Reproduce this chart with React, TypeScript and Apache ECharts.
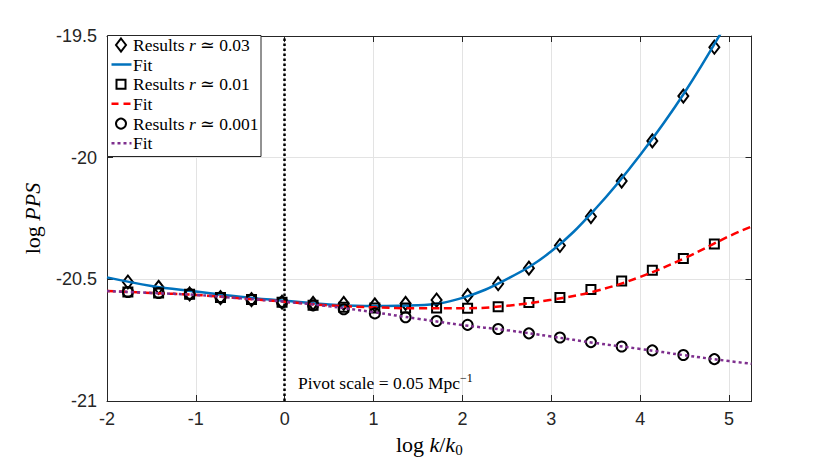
import React, { useEffect, useRef } from 'react';
import * as echarts from 'echarts';

// x positions (log k/k0) of the computed points
const markerX = [-1.765, -1.419, -1.07, -0.723, -0.374, -0.03, 0.319, 0.664, 1.014, 1.36, 1.709, 2.058, 2.402, 2.748, 3.097, 3.446, 3.792, 4.137, 4.486, 4.835];
// Results r ~ 0.03 (diamonds)
const results003 = [-20.511, -20.533, -20.56, -20.575, -20.583, -20.594, -20.599, -20.599, -20.605, -20.599, -20.585, -20.567, -20.518, -20.454, -20.361, -20.242, -20.096, -19.931, -19.747, -19.546];
// Results r ~ 0.01 (squares)
const results001 = [-20.552, -20.556, -20.561, -20.575, -20.583, -20.594, -20.606, -20.615, -20.618, -20.618, -20.618, -20.619, -20.613, -20.595, -20.575, -20.542, -20.507, -20.463, -20.414, -20.355];
// Results r ~ 0.001 (circles)
const results0001 = [-20.552, -20.556, -20.561, -20.575, -20.583, -20.594, -20.607, -20.623, -20.64, -20.656, -20.671, -20.687, -20.704, -20.722, -20.739, -20.758, -20.776, -20.792, -20.811, -20.828];

// Fit curves
const fitBlueX = [-2, -1.5, -1, -0.5, 0, 0.5, 1, 1.5, 2, 2.5, 3, 3.5, 4, 4.5, 5];
const fitBlueY = [-20.492, -20.527, -20.55, -20.572, -20.588, -20.603, -20.61, -20.607, -20.576, -20.499, -20.385, -20.209, -19.989, -19.732, -19.43];
const fitX = [-2, -1.5, -1, -0.5, 0, 0.5, 1, 1.5, 2, 2.5, 3, 3.5, 4, 4.5, 5, 5.253];
const fitRedY = [-20.548, -20.556, -20.564, -20.578, -20.592, -20.607, -20.615, -20.619, -20.619, -20.609, -20.584, -20.548, -20.49, -20.413, -20.323, -20.283];
const fitPurpleY = [-20.548, -20.556, -20.564, -20.578, -20.592, -20.611, -20.635, -20.662, -20.688, -20.709, -20.735, -20.762, -20.786, -20.812, -20.836, -20.847];

const pivotX = 0;
const xTicks = { min: -2, max: 5.253, interval: 1 };
const yTicks = { min: -21, max: -19.5, interval: 0.5 };

const legendLabels = ['0.03', '0.01', '0.001'];

const pair = (xs: number[], ys: number[]) => xs.map((x, i) => [x, ys[i]]);

const SERIF = '"Liberation Serif", "DejaVu Serif", serif';
const SANS = '"Liberation Sans", Arial, sans-serif';
const AXIS_COLOR = '#262626';

export default function App() {
  const ref = useRef<HTMLDivElement>(null);
  useEffect(() => {
    document.body.style.margin = '0';
    if (!ref.current) return;
    const chart = echarts.init(ref.current, undefined, { renderer: 'svg' });

    const markerStyle = { color: 'rgba(255,255,255,0)', borderColor: '#000', borderWidth: 2, opacity: 1 };
    const rowY = [45, 64.5, 84.2, 103.8, 123.6, 143.2];
    const serifRich = {
      n: { fontFamily: SERIF, fontSize: 17.5, color: '#000' },
      i: { fontFamily: SERIF, fontSize: 17.5, fontStyle: 'italic', color: '#000' },
    };
    const legendText = (y: number, text: string) => ({
      type: 'text',
      z: 101,
      style: { x: 133, y, text, rich: serifRich, verticalAlign: 'middle', align: 'left', fontFamily: SERIF, fontSize: 17.5 },
    });

    const option: any = {
      animation: false,
      grid: { left: 107, right: 78.5, top: 36, bottom: 58, containLabel: false },
      xAxis: [
        {
          type: 'value',
          min: xTicks.min,
          max: xTicks.max,
          interval: xTicks.interval,
          axisLine: { show: true, onZero: false, lineStyle: { color: AXIS_COLOR, width: 1 } },
          axisTick: { show: true, inside: true, length: 6, lineStyle: { color: AXIS_COLOR } },
          axisLabel: {
            color: AXIS_COLOR, fontFamily: SANS, fontSize: 18, margin: 9, showMaxLabel: false,
            formatter: (v: number) => (Number.isInteger(v) ? String(v) : ''),
          },
          splitLine: { show: true, lineStyle: { color: '#e3e3e3', width: 1 } },
          name: '{n|log }{i|k}{n|/}{i|k}{s|0}',
          nameLocation: 'middle',
          nameGap: 30,
          nameTextStyle: {
            rich: {
              n: { fontFamily: SERIF, fontSize: 22, color: '#000' },
              i: { fontFamily: SERIF, fontSize: 22, fontStyle: 'italic', color: '#000' },
              s: { fontFamily: SERIF, fontSize: 15, color: '#000', padding: [11, 0, 0, 0] },
            },
          },
        },
        {
          type: 'value',
          position: 'top',
          min: xTicks.min,
          max: xTicks.max,
          interval: xTicks.interval,
          axisLine: { show: true, onZero: false, lineStyle: { color: AXIS_COLOR, width: 1 } },
          axisTick: { show: true, inside: true, length: 6, lineStyle: { color: AXIS_COLOR } },
          axisLabel: { show: false },
          splitLine: { show: false },
        },
      ],
      yAxis: [
        {
          type: 'value',
          min: yTicks.min,
          max: yTicks.max,
          interval: yTicks.interval,
          axisLine: { show: true, onZero: false, lineStyle: { color: AXIS_COLOR, width: 1 } },
          axisTick: { show: true, inside: true, length: 6, lineStyle: { color: AXIS_COLOR } },
          axisLabel: { color: AXIS_COLOR, fontFamily: SANS, fontSize: 18, margin: 10 },
          splitLine: { show: true, lineStyle: { color: '#e3e3e3', width: 1 } },
          name: '{n|log }{i|PPS}',
          nameLocation: 'middle',
          nameGap: 64,
          nameTextStyle: {
            rich: {
              n: { fontFamily: SERIF, fontSize: 22, color: '#000' },
              i: { fontFamily: SERIF, fontSize: 22, fontStyle: 'italic', color: '#000' },
            },
          },
        },
        {
          type: 'value',
          position: 'right',
          min: yTicks.min,
          max: yTicks.max,
          interval: yTicks.interval,
          axisLine: { show: true, onZero: false, lineStyle: { color: AXIS_COLOR, width: 1 } },
          axisTick: { show: true, inside: true, length: 6, lineStyle: { color: AXIS_COLOR } },
          axisLabel: { show: false },
          splitLine: { show: false },
        },
      ],
      series: [
        {
          name: 'Results r ≃ 0.03',
          type: 'scatter',
          symbol: 'diamond',
          symbolSize: [10, 13],
          itemStyle: markerStyle,
          data: pair(markerX, results003),
          z: 3,
        },
        {
          name: 'Fit',
          type: 'line',
          symbol: 'none',
          smooth: 0.4,
          lineStyle: { color: '#0072BD', width: 2.5 },
          data: pair(fitBlueX, fitBlueY),
          z: 4,
          markLine: {
            silent: true,
            symbol: ['none', 'none'],
            label: { show: false },
            lineStyle: { color: '#000', type: [2.5, 2.5], width: 2.5, opacity: 1 },
            emphasis: { disabled: true },
            data: [{ xAxis: pivotX }],
          },
        },
        {
          name: 'Results r ≃ 0.01',
          type: 'scatter',
          symbol: 'rect',
          symbolSize: 9,
          itemStyle: markerStyle,
          data: pair(markerX, results001),
          z: 5,
        },
        {
          name: 'Fit ',
          type: 'line',
          symbol: 'none',
          smooth: 0.4,
          lineStyle: { color: '#FF0000', width: 2.5, type: [8, 4.5] },
          data: pair(fitX, fitRedY),
          z: 6,
        },
        {
          name: 'Results r ≃ 0.001',
          type: 'scatter',
          symbol: 'circle',
          symbolSize: 10,
          itemStyle: markerStyle,
          data: pair(markerX, results0001),
          z: 7,
        },
        {
          name: 'Fit  ',
          type: 'line',
          symbol: 'none',
          smooth: 0.4,
          lineStyle: { color: '#7E2F8E', width: 2.5, type: [3, 3] },
          data: pair(fitX, fitPurpleY),
          z: 8,
        },
      ],
      graphic: [
        {
          type: 'text',
          z: 50,
          style: {
            x: 298, y: 383, verticalAlign: 'middle',
            text: '{n|Pivot scale = 0.05 Mpc}{s|−1}',
            rich: {
              n: { fontFamily: SERIF, fontSize: 17.5, color: '#000' },
              s: { fontFamily: SERIF, fontSize: 12, color: '#000', padding: [0, 0, 10, 0] },
            },
          },
        },
        {
          type: 'rect', z: 100,
          shape: { x: 107.5, y: 35.5, width: 153.5, height: 121 },
          style: { fill: '#fff', stroke: AXIS_COLOR, lineWidth: 1 },
        },
        {
          type: 'polygon', z: 101,
          shape: { points: [[121, rowY[0] - 6.5], [126, rowY[0]], [121, rowY[0] + 6.5], [116, rowY[0]]] },
          style: { fill: 'none', stroke: '#000', lineWidth: 2 },
        },
        {
          type: 'line', z: 101,
          shape: { x1: 111.5, y1: rowY[1], x2: 131.5, y2: rowY[1] },
          style: { stroke: '#0072BD', lineWidth: 2.5 },
        },
        {
          type: 'rect', z: 101,
          shape: { x: 116.5, y: rowY[2] - 4.5, width: 9, height: 9 },
          style: { fill: 'none', stroke: '#000', lineWidth: 2 },
        },
        {
          type: 'line', z: 101,
          shape: { x1: 111.5, y1: rowY[3], x2: 131.5, y2: rowY[3] },
          style: { stroke: '#FF0000', lineWidth: 2.5, lineDash: [7, 5] },
        },
        {
          type: 'circle', z: 101,
          shape: { cx: 121, cy: rowY[4], r: 5 },
          style: { fill: 'none', stroke: '#000', lineWidth: 2 },
        },
        {
          type: 'line', z: 101,
          shape: { x1: 111.5, y1: rowY[5], x2: 131.5, y2: rowY[5] },
          style: { stroke: '#7E2F8E', lineWidth: 2.5, lineDash: [3, 3] },
        },
        legendText(rowY[0], `{n|Results }{i|r}{n| ≃ ${legendLabels[0]}}`),
        legendText(rowY[1], '{n|Fit}'),
        legendText(rowY[2], `{n|Results }{i|r}{n| ≃ ${legendLabels[1]}}`),
        legendText(rowY[3], '{n|Fit}'),
        legendText(rowY[4], `{n|Results }{i|r}{n| ≃ ${legendLabels[2]}}`),
        legendText(rowY[5], '{n|Fit}'),
      ],
    };
    chart.setOption(option);
    return () => chart.dispose();
  }, []);
  return <div ref={ref} style={{ width: 830, height: 462 }} />;
}
